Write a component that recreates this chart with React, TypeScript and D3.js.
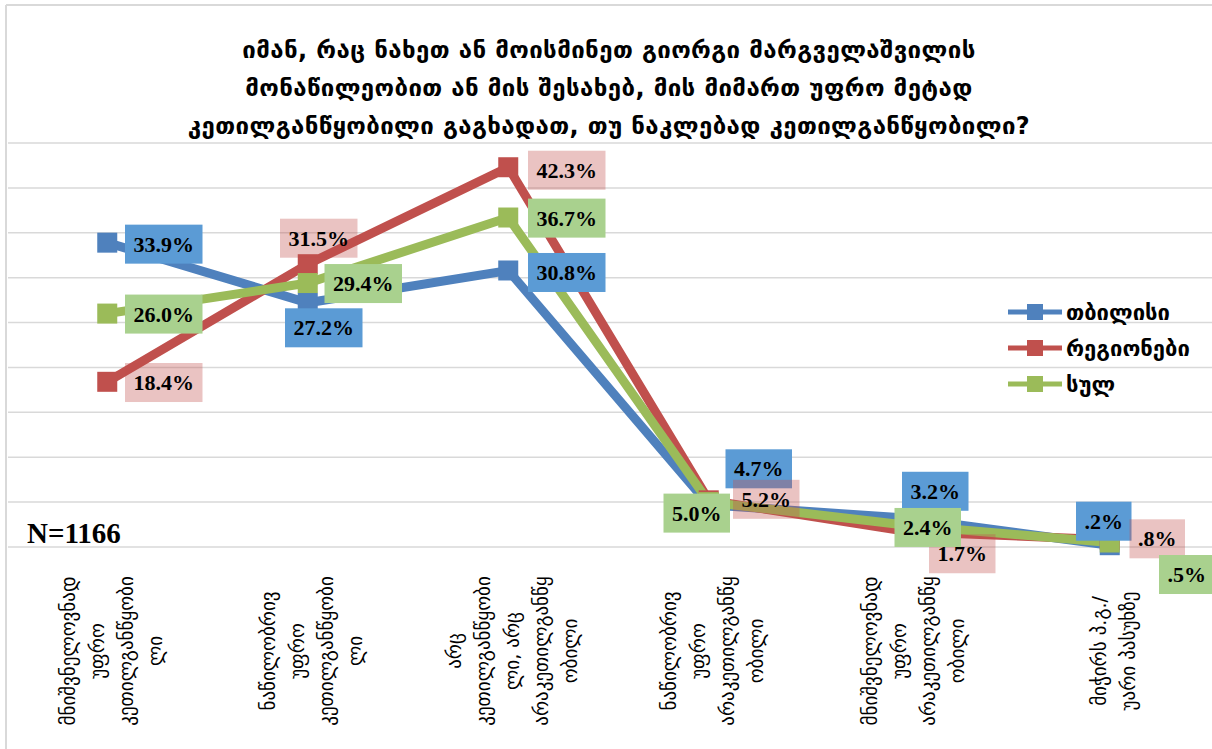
import React from "react";
import * as d3 from "d3";

const categories = [
  "მნიშვნელოვნად უფრო კეთილგანწყობილი",
  "ნაწილობრივ უფრო კეთილგანწყობილი",
  "არც კეთილგანწყობილი, არც არაკეთილგანწყობილი",
  "ნაწილობრივ უფრო არაკეთილგანწყობილი",
  "მნიშვნელოვნად უფრო არაკეთილგანწყობილი",
  "მიჭირს პ.გ./ უარი პასუხზე",
];
const categoryLines = [
  ["მნიშვნელოვნად", "უფრო", "კეთილგანწყობი", "ლი"],
  ["ნაწილობრივ", "უფრო", "კეთილგანწყობი", "ლი"],
  ["არც", "კეთილგანწყობი", "ლი, არც", "არაკეთილგანწყ", "ობილი"],
  ["ნაწილობრივ", "უფრო", "არაკეთილგანწყ", "ობილი"],
  ["მნიშვნელოვნად", "უფრო", "არაკეთილგანწყ", "ობილი"],
  ["მიჭირს პ.გ./", "უარი პასუხზე"],
];
const seriesNames = ["თბილისი", "რეგიონები", "სულ"];
const tbilisi = [33.9, 27.2, 30.8, 4.7, 3.2, 0.2];
const regions = [18.4, 31.5, 42.3, 5.2, 1.7, 0.8];
const total = [26.0, 29.4, 36.7, 5.0, 2.4, 0.5];
const yTicks = [0, 5, 10, 15, 20, 25, 30, 35, 40, 45];
const titleLines = [
  "იმან, რაც ნახეთ ან მოისმინეთ გიორგი მარგველაშვილის",
  "მონაწილეობით ან მის შესახებ, მის მიმართ უფრო მეტად",
  "კეთილგანწყობილი გაგხადათ, თუ ნაკლებად კეთილგანწყობილი?",
];
const sampleNote = "N=1166";

// layout / styling (not data)
const lineColors = ["#4F81BD", "#C0504D", "#9BBB59"];
const boxFills = ["#5B9BD5", "rgba(192,80,77,0.34)", "#A9D18E"];
const labelOffsets = [
  [[56.5, 1.5], [16, 25], [58.5, 2], [50, -36], [26, -27], [-6, -24]],
  [[56.5, 0.7], [11, -26], [58.5, 3], [57.5, -1], [53, 22], [47.5, -1]],
  [[56.5, 0.5], [55.5, 0.5], [58.5, 0.6], [-12, 11], [18.5, 2], [77, 32]],
];

const W = 1212;
const H = 749;
const LABEL_FONT = 22;

function fmt(v: number): string {
  const s = v.toFixed(1) + "%";
  return s.startsWith("0.") ? s.slice(1) : s;
}
function textWidth(s: string): number {
  let w = 0;
  for (const c of s) {
    if (c === ".") w += 0.25;
    else if (c === "%") w += 1.0;
    else w += 0.5;
  }
  return w * LABEL_FONT;
}

export default function App() {
  const x = d3.scalePoint<string>().domain(categories).range([7, 1210]).padding(0.5);
  const y = d3.scaleLinear().domain([0, 45]).range([547, 143]);
  const series = [tbilisi, regions, total];
  const line = d3
    .line<number>()
    .x((_, i) => x(categories[i]) as number)
    .y((d) => y(d));

  return (
    <svg
      width={W}
      height={H}
      style={{ position: "absolute", left: 0, top: 0, display: "block", background: "#fff" }}
    >
      {/* frame */}
      <line x1={6} y1={5} x2={W} y2={5} stroke="#d9d9d9" strokeWidth={2} />
      <line x1={6} y1={5} x2={6} y2={H} stroke="#d9d9d9" strokeWidth={2} />
      {/* gridlines */}
      {yTicks.map((t) => (
        <line key={t} x1={8} x2={W} y1={y(t)} y2={y(t)} stroke="#d9d9d9" strokeWidth={1.5} />
      ))}
      {/* title */}
      <g fontFamily="DejaVu Sans" fontWeight="bold" fontSize={24} fill="#000" textAnchor="middle">
        {titleLines.map((t, i) => (
          <text key={i} x={609} y={58 + i * 38} letterSpacing={0.4}>
            {t}
          </text>
        ))}
      </g>
      {/* category labels */}
      <g fontFamily="DejaVu Sans" fontSize={19} fill="#000">
        {categories.map((c, ci) => {
          const lines = categoryLines[ci];
          const cx = (x(c) as number) + 4;
          return lines.map((ln, li) => {
            const lx = cx + (li - (lines.length - 1) / 2) * 29;
            return (
              <text
                key={ci + "-" + li}
                transform={`translate(${lx},651) rotate(-90)`}
                textAnchor="middle"
                dominantBaseline="central"
              >
                {ln}
              </text>
            );
          });
        })}
      </g>
      {/* lines */}
      {series.map((s, si) => (
        <path
          key={si}
          d={line(s) || ""}
          fill="none"
          stroke={lineColors[si]}
          strokeWidth={9}
          strokeLinejoin="miter"
        />
      ))}
      {/* markers */}
      {series.map((s, si) =>
        s.map((v, i) => (
          <rect
            key={si + "-" + i}
            x={(x(categories[i]) as number) - 10}
            y={y(v) - 10}
            width={20}
            height={20}
            fill={lineColors[si]}
          />
        ))
      )}
      {/* data labels */}
      {series.map((s, si) =>
        s.map((v, i) => {
          const px = x(categories[i]) as number;
          const py = y(v);
          const [dx, dy] = labelOffsets[si][i];
          const cx = px + dx;
          const cy = py + dy;
          const label = fmt(v);
          const bw = textWidth(label) + 17;
          const bh = 39;
          return (
            <g key={si + "-" + i}>
              <rect x={cx - bw / 2} y={cy - bh / 2} width={bw} height={bh} fill={boxFills[si]} />
              <text
                x={cx}
                y={cy}
                textAnchor="middle"
                dominantBaseline="central"
                fontFamily="Liberation Serif"
                fontWeight="bold"
                fontSize={LABEL_FONT}
                fill="#000"
              >
                {label}
              </text>
            </g>
          );
        })
      )}
      {/* N note */}
      <text x={27} y={543} fontFamily="Liberation Serif" fontWeight="bold" fontSize={29} fill="#000">
        {sampleNote}
      </text>
      {/* legend */}
      {seriesNames.map((n, i) => {
        const ly = 312 + i * 36;
        return (
          <g key={n}>
            <line x1={1008} x2={1062} y1={ly} y2={ly} stroke={lineColors[i]} strokeWidth={5} />
            <rect x={1027} y={ly - 8} width={16} height={16} fill={lineColors[i]} />
            <text
              x={1066}
              y={ly}
              dominantBaseline="central"
              fontFamily="DejaVu Sans"
              fontWeight="bold"
              fontSize={22}
              fill="#000"
            >
              {n}
            </text>
          </g>
        );
      })}
    </svg>
  );
}
